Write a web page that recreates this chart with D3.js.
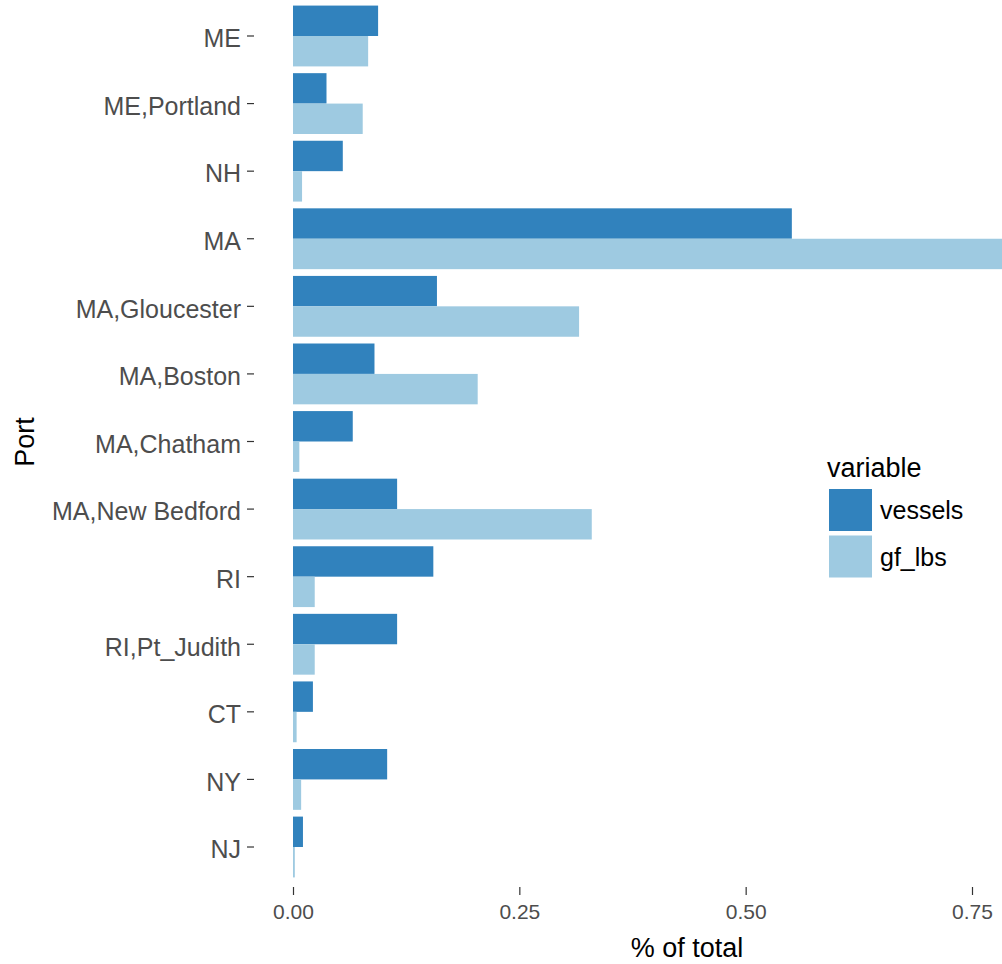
<!DOCTYPE html>
<html>
<head>
<meta charset="utf-8">
<script src="https://cdn.jsdelivr.net/npm/d3@7"></script>
<style>
  html, body { margin: 0; padding: 0; background: #fff; }
  svg { display: block; font-family: "Liberation Sans", Arial, sans-serif; }
</style>
</head>
<body>
<svg id="chart" width="1002" height="964"></svg>
<script>
const ports = ["ME", "ME,Portland", "NH", "MA", "MA,Gloucester", "MA,Boston", "MA,Chatham",
  "MA,New Bedford", "RI", "RI,Pt_Judith", "CT", "NY", "NJ"];
const variables = ["vessels", "gf_lbs"];
const vessels = [0.094, 0.037, 0.055, 0.551, 0.159, 0.090, 0.066, 0.115, 0.155, 0.115, 0.022, 0.104, 0.011];
const gfLbs   = [0.083, 0.077, 0.010, 0.850, 0.316, 0.204, 0.007, 0.330, 0.024, 0.024, 0.004, 0.009, 0.002];
const xTicks = [0, 0.25, 0.5, 0.75];
const colors = ["#3182bd", "#9ecae1"];

const rows = ports.map((p, i) => ({ port: p, values: [vessels[i], gfLbs[i]] }));

const svg = d3.select("#chart");
const panel = { left: 254, right: 1002, top: 0, bottom: 887 };

const x = d3.scaleLinear().domain([0, 0.75]).range([293, 972]);
const y = d3.scaleBand().domain(ports).range([2.2, 880.8]).paddingInner(0.1).paddingOuter(0.05);
const yInner = d3.scaleBand().domain(variables).range([0, y.bandwidth()]);
const color = d3.scaleOrdinal().domain(variables).range(colors);

svg.append("defs").append("clipPath").attr("id", "clip")
  .append("rect").attr("x", panel.left).attr("y", panel.top)
  .attr("width", panel.right - panel.left).attr("height", panel.bottom - panel.top);

const g = svg.append("g").attr("clip-path", "url(#clip)");
g.selectAll("g.grp").data(rows).join("g").attr("class", "grp")
  .attr("transform", d => `translate(0,${y(d.port)})`)
  .selectAll("rect").data(d => d.values.map((v, k) => ({ key: variables[k], v })))
  .join("rect")
  .attr("x", x(0))
  .attr("y", d => yInner(d.key))
  .attr("width", d => x(d.v) - x(0))
  .attr("height", yInner.bandwidth())
  .attr("fill", d => color(d.key));

// y axis
const yAxis = d3.axisLeft(y).tickSize(7).tickPadding(6);
const ya = svg.append("g").attr("transform", `translate(${panel.left},0)`).call(yAxis);
ya.select(".domain").remove();
ya.selectAll(".tick line").attr("stroke", "#333").attr("stroke-width", 1.2);
ya.selectAll(".tick text").attr("fill", "#4d4d4d").style("font-size", "25px")
  .attr("dy", "0.45em")
  .style("font-family", "'Liberation Sans', Arial, sans-serif");

// x axis
const xAxis = d3.axisBottom(x).tickValues(xTicks).tickFormat(d3.format(".2f")).tickSize(8).tickPadding(9);
const xa = svg.append("g").attr("transform", `translate(0,${panel.bottom})`).call(xAxis);
xa.select(".domain").remove();
xa.selectAll(".tick line").attr("stroke", "#333").attr("stroke-width", 1.2);
xa.selectAll(".tick text").attr("fill", "#4d4d4d").style("font-size", "21px")
  .style("font-family", "'Liberation Sans', Arial, sans-serif");

// axis titles
svg.append("text").attr("x", 687).attr("y", 957).attr("text-anchor", "middle")
  .style("font-size", "27px").attr("fill", "#000").text("% of total");
svg.append("text").attr("transform", "translate(34,442) rotate(-90)").attr("text-anchor", "middle")
  .style("font-size", "27px").attr("fill", "#000").text("Port");

// legend
const lg = svg.append("g").attr("transform", "translate(827,0)");
lg.append("text").attr("x", 0).attr("y", 477).style("font-size", "27px").attr("fill", "#000").text("variable");
const items = lg.selectAll("g.item").data(variables).join("g").attr("class", "item")
  .attr("transform", (d, i) => `translate(2,${489 + i * 46.5})`);
items.append("rect").attr("width", 43).attr("height", 42).attr("fill", d => color(d));
items.append("text").attr("x", 51).attr("y", 21).attr("dy", "0.36em")
  .style("font-size", "25px").attr("fill", "#000").text(d => d);
</script>
</body>
</html>
